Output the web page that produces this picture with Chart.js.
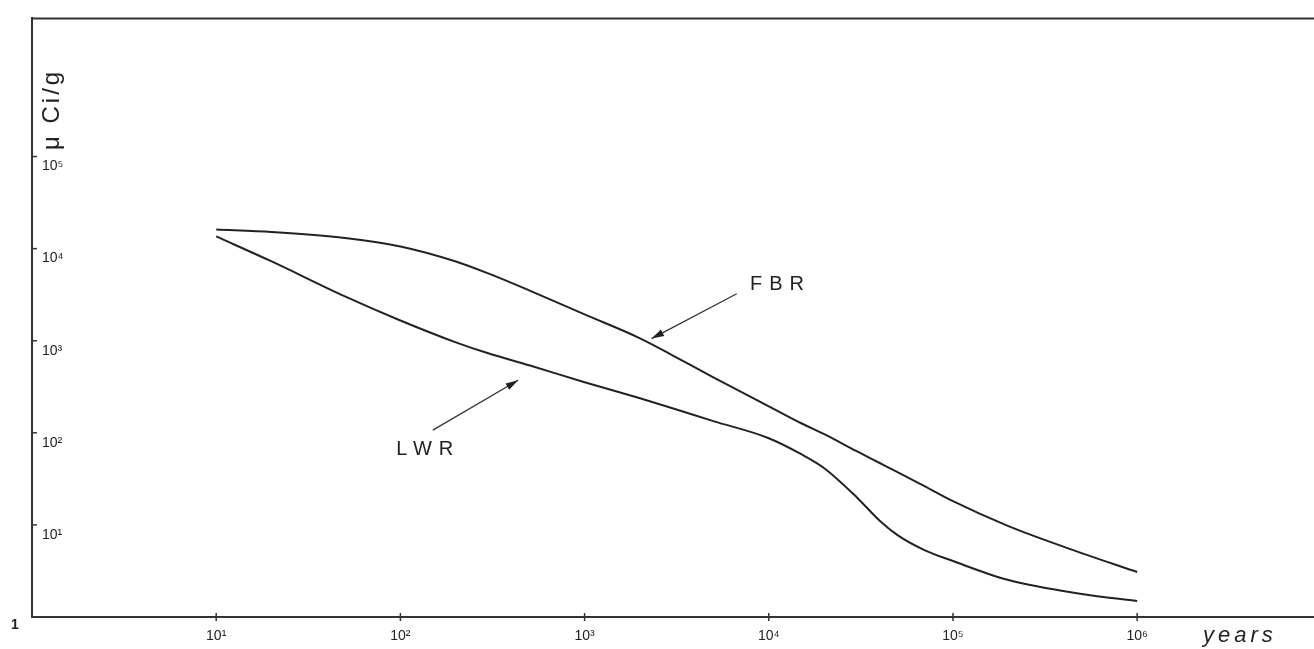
<!DOCTYPE html>
<html>
<head>
<meta charset="utf-8">
<script src="https://cdn.jsdelivr.net/npm/chart.js@4/dist/chart.umd.min.js"></script>
<style>
  html, body { margin: 0; padding: 0; background: #fff; }
  #wrap { width: 1314px; height: 649px; }
</style>
</head>
<body>
<div id="wrap"><canvas id="decayChart"></canvas></div>
<script>
// time after discharge (years) and activity (µCi/g)
const years = [10, 20, 50, 100, 200, 300, 500, 1000, 2000, 3000, 5000, 1e4, 1.5e4, 2e4, 3e4, 4e4, 5e4, 7e4, 1e5, 2e5, 5e5, 1e6];
const fbrValues = [16150, 15170, 13060, 10570, 7260, 5380, 3520, 1932, 1062, 695, 401, 194, 127, 96.6, 63.1, 47.0, 37.4, 26.4, 18.1, 9.7, 4.94, 3.08];
const lwrValues = [13560, 7260, 3030, 1660, 961, 730, 541, 354, 237, 185, 134, 87.4, 58.6, 41.3, 20, 11.1, 7.75, 5.33, 4.05, 2.52, 1.78, 1.49];

const xTicks = [10, 100, 1000, 1e4, 1e5, 1e6];
const yTicks = [10, 100, 1000, 1e4, 1e5];
const supers = { 0: '⁰', 1: '¹', 2: '²', 3: '³', 4: '⁴', 5: '⁵', 6: '⁶' };

function powLabel(v) {
    const e = Math.round(Math.log10(v));
    return e === 0 ? '1' : '10' + supers[e];
}

function toPoints(values) {
    return years.map((t, i) => ({ x: t, y: values[i] }));
}

// labels + arrows, placed in data space
const notes = [
    { text: 'FBR', at: [7900, 4100], from: [6700, 3240], to: [2310, 1055] },
    { text: 'LWR', at: [95, 66], from: [150, 107], to: [436, 372] }
];

const ink = '#222';
const sans = '"Liberation Sans", Arial, sans-serif';

const decorPlugin = {
    id: 'decor',
    afterDraw(chart) {
        const { ctx, chartArea: a, scales: { x, y } } = chart;
        ctx.save();
        ctx.strokeStyle = '#333';
        ctx.fillStyle = ink;

        // top frame line
        ctx.lineWidth = 2;
        ctx.beginPath();
        ctx.moveTo(a.left, a.top);
        ctx.lineTo(a.right, a.top);
        ctx.stroke();

        // tick marks
        ctx.lineWidth = 1.5;
        xTicks.forEach(v => {
            const px = x.getPixelForValue(v);
            ctx.beginPath();
            ctx.moveTo(px, a.bottom - 4);
            ctx.lineTo(px, a.bottom + 4);
            ctx.stroke();
        });
        yTicks.forEach(v => {
            const py = y.getPixelForValue(v);
            ctx.beginPath();
            ctx.moveTo(a.left, py);
            ctx.lineTo(a.left + 5, py);
            ctx.stroke();
        });

        // "1" at the origin
        ctx.font = 'bold 14px ' + sans;
        ctx.textAlign = 'center';
        ctx.textBaseline = 'middle';
        ctx.fillText('1', a.left - 17, a.bottom + 8);

        // axis names
        ctx.font = 'italic 22px ' + sans;
        ctx.letterSpacing = '4px';
        ctx.textAlign = 'left';
        ctx.fillText('years', a.right - 111, a.bottom + 19);

        ctx.save();
        ctx.translate(a.left + 20, a.top + 91);
        ctx.rotate(-Math.PI / 2);
        ctx.font = '24px ' + sans;
        ctx.letterSpacing = '3px';
        ctx.textAlign = 'center';
        ctx.fillText('μ Ci/g', 0, 0);
        ctx.restore();

        // curve labels with arrows
        ctx.font = '20px ' + sans;
        ctx.letterSpacing = '7px';
        ctx.textAlign = 'left';
        ctx.lineWidth = 1.3;
        notes.forEach(n => {
            ctx.fillText(n.text, x.getPixelForValue(n.at[0]), y.getPixelForValue(n.at[1]));
            const x1 = x.getPixelForValue(n.from[0]), y1 = y.getPixelForValue(n.from[1]);
            const x2 = x.getPixelForValue(n.to[0]), y2 = y.getPixelForValue(n.to[1]);
            ctx.beginPath();
            ctx.moveTo(x1, y1);
            ctx.lineTo(x2, y2);
            ctx.stroke();
            const ang = Math.atan2(y2 - y1, x2 - x1);
            ctx.beginPath();
            ctx.moveTo(x2, y2);
            ctx.lineTo(x2 - 13 * Math.cos(ang - 0.28), y2 - 13 * Math.sin(ang - 0.28));
            ctx.lineTo(x2 - 13 * Math.cos(ang + 0.28), y2 - 13 * Math.sin(ang + 0.28));
            ctx.closePath();
            ctx.fill();
        });
        ctx.restore();
    }
};

const ctxDecay = document.getElementById('decayChart');

new Chart(ctxDecay, {
    type: 'line',
    data: {
        datasets: [{
            label: 'FBR',
            data: toPoints(fbrValues),
            borderColor: ink,
            borderWidth: 2,
            pointRadius: 0,
            fill: false,
            cubicInterpolationMode: 'monotone'
        }, {
            label: 'LWR',
            data: toPoints(lwrValues),
            borderColor: ink,
            borderWidth: 2,
            pointRadius: 0,
            fill: false,
            cubicInterpolationMode: 'monotone'
        }]
    },
    options: {
        responsive: true,
        maintainAspectRatio: false,
        animation: false,
        layout: { padding: { left: 32, top: 17, right: 0, bottom: 0 } },
        plugins: {
            legend: { display: false },
            tooltip: { enabled: false }
        },
        scales: {
            x: {
                type: 'logarithmic',
                min: 1,
                max: Math.pow(10, 6.96),
                afterBuildTicks: s => { s.ticks = xTicks.map(v => ({ value: v })); },
                afterFit: s => { s.height = 32; },
                grid: { display: true, drawOnChartArea: false, drawTicks: false },
                border: { display: true, color: '#333', width: 2 },
                ticks: {
                    callback: v => powLabel(v),
                    autoSkip: false,
                    maxRotation: 0,
                    padding: 11,
                    color: ink,
                    font: { family: sans, size: 14 }
                }
            },
            y: {
                type: 'logarithmic',
                min: 1,
                max: Math.pow(10, 6.5),
                afterBuildTicks: s => { s.ticks = yTicks.map(v => ({ value: v })); },
                afterFit: s => { s.width = 0; },
                grid: { display: true, drawOnChartArea: false, drawTicks: false },
                border: { display: true, color: '#333', width: 2 },
                ticks: {
                    callback: v => powLabel(v),
                    mirror: true,
                    padding: 10,
                    labelOffset: 10,
                    color: ink,
                    font: { family: sans, size: 14 }
                }
            }
        }
    },
    plugins: [decorPlugin]
});
</script>
</body>
</html>
